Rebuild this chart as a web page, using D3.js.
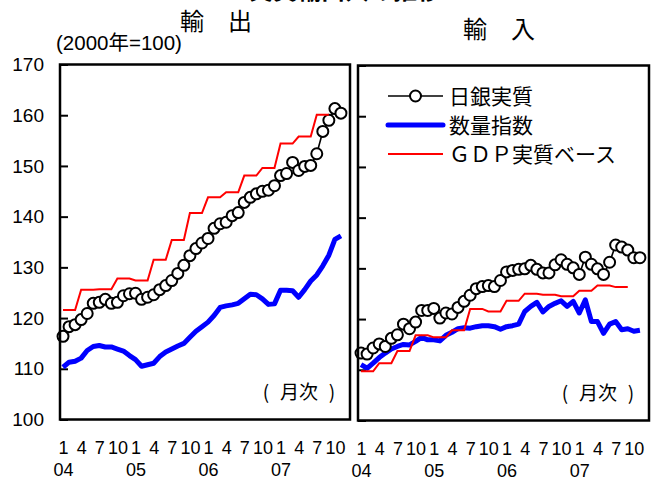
<!DOCTYPE html>
<html><head><meta charset="utf-8">
<script src="https://cdn.jsdelivr.net/npm/d3@7"></script>
<style>
html,body{margin:0;padding:0;background:#fff;}
svg{display:block;font-family:"Liberation Sans",Arial,"Noto Sans CJK JP",sans-serif;}
</style></head>
<body><svg id="c" width="654" height="480"></svg>
<script>
// ---- data ----
const monthTicks = [0,3,6,9,12,15,18,21,24,27,30,33,36,39,42,45];
const monthTickLabels = ["1","4","7","10","1","4","7","10","1","4","7","10","1","4","7","10"];
const yearTicks = [0,12,24,36];
const yearLabels = ["04","05","06","07"];
const yTicks = [100,110,120,130,140,150,160,170];
const seriesNames = ["日銀実質","数量指数","ＧＤＰ実質ベース"];

const exportBoj = [116.4,118.3,118.7,119.7,120.9,122.9,123.1,123.7,122.9,123.1,124.4,124.8,124.9,123.7,124.1,124.6,125.6,126.4,127.4,128.8,130.4,132.3,133.7,134.8,135.7,137.7,138.6,138.9,140.2,140.8,142.8,143.8,144.5,145.0,145.2,146.1,148.1,148.5,150.7,149.1,149.9,150.1,152.4,156.8,159.0,161.3,160.4];
const exportQty = [110.3,111.3,111.5,112.1,113.6,114.4,114.6,114.3,114.3,113.9,113.5,112.6,111.8,110.5,110.8,111.1,112.4,113.3,113.9,114.5,115.0,116.2,117.4,118.3,119.2,120.5,122.1,122.4,122.6,122.9,123.8,124.7,124.6,123.8,122.7,122.8,125.5,125.5,125.4,124.1,125.6,127.3,128.5,130.3,132.4,135.5,136.2];
const exportGdpQ = [121.6,125.6,125.7,127.8,127.4,131.5,135.4,140.7,143.8,144.8,148.1,149.6,154.4,155.8,160.1];

const importBoj = [113.3,113.1,114.3,115.1,114.6,116.2,116.9,119.0,118.1,119.4,121.7,121.7,122.1,120.2,121.2,121.0,122.3,123.5,124.7,126.0,126.4,126.6,126.4,127.6,129.3,129.6,129.8,129.9,130.6,129.8,129.1,129.1,130.7,131.7,130.8,130.1,128.8,132.2,130.8,129.9,128.8,131.2,134.6,134.2,133.6,132.1,132.1];
const importQty = [111.0,110.3,111.3,112.4,113.3,114.1,114.6,115.0,114.9,115.6,116.4,115.9,115.9,115.7,116.8,117.4,118.1,118.3,118.2,118.5,118.7,118.7,118.5,118.0,118.5,118.7,119.0,121.5,122.5,123.3,121.4,122.5,123.1,123.6,122.5,123.5,121.2,123.8,119.5,119.5,117.2,119.0,119.5,117.9,118.1,117.6,117.8];
const importGdpQ = [109.7,111.3,113.7,116.8,116.4,117.8,122.0,121.5,123.6,125.0,124.8,124.5,125.6,126.6,126.3];

// quarterly values repeated for each month of the quarter
const toMonthly = q => q.flatMap(v => [v,v,v]);

const svg = d3.select("#c");
const CJK = '"Noto Sans CJK JP",sans-serif';
const LAT = '"Liberation Sans",Arial,sans-serif';

// title (mostly cut off at top)
svg.append("text").attr("x",249).attr("y",-1).attr("font-family",CJK)
  .attr("font-size",24).attr("font-weight","bold").text("実質輸出入の推移");
svg.append("text").attr("x",180).attr("y",30).attr("font-family",CJK)
  .attr("font-size",24).text("輸　出");
svg.append("text").attr("x",463).attr("y",38).attr("font-family",CJK)
  .attr("font-size",24).text("輸　入");
svg.append("text").attr("x",56).attr("y",50).attr("font-size",20.5).text("(2000年=100)");

function panel(x0, x1, y0, y1, boj, qty, gdpQ, showLabels) {
  const x = d3.scalePoint().domain(d3.range(48)).range([x0,x1]).padding(0.5);
  const y = d3.scaleLinear().domain([100,170]).range([y1,y0]);
  const g = svg.append("g");

  // y axis with inward ticks
  const ya = g.append("g").attr("transform",`translate(${x0},0)`)
    .call(d3.axisLeft(y).tickValues(yTicks).tickSizeInner(-8).tickSizeOuter(0).tickPadding(16)
      .tickFormat(showLabels ? d3.format("d") : () => ""));
  ya.select(".domain").remove();
  ya.selectAll(".tick line").attr("stroke","#000").attr("stroke-width",2);
  ya.selectAll("text").attr("font-size",19).attr("fill","#000").attr("font-family",LAT);

  // x axis: months
  const xa = g.append("g").attr("transform",`translate(0,${y1})`)
    .call(d3.axisBottom(x).tickValues(monthTicks).tickSize(0).tickPadding(22)
      .tickFormat((d,i) => monthTickLabels[i]));
  xa.select(".domain").remove();
  xa.selectAll("text").attr("font-size",18).attr("fill","#000").attr("font-family",LAT);
  const xb = g.append("g").attr("transform",`translate(0,${y1})`)
    .call(d3.axisBottom(x).tickValues(yearTicks).tickSize(0).tickPadding(44)
      .tickFormat((d,i) => yearLabels[i]));
  xb.select(".domain").remove();
  xb.selectAll("text").attr("font-size",18).attr("fill","#000").attr("font-family",LAT);

  const marks = g.append("g");
  const line = d3.line().x((d,i)=>x(i)).y(d=>y(d));
  marks.append("path").datum(boj).attr("d",line).attr("fill","none")
    .attr("stroke","#000").attr("stroke-width",1.6);
  marks.append("path").datum(qty).attr("d",line).attr("fill","none")
    .attr("stroke","#0000ff").attr("stroke-width",5).attr("stroke-linejoin","round");
  marks.selectAll("circle").data(boj).join("circle")
    .attr("cx",(d,i)=>x(i)).attr("cy",d=>y(d)).attr("r",5.5)
    .attr("fill","#fff").attr("stroke","#000").attr("stroke-width",2);
  marks.append("path").datum(toMonthly(gdpQ)).attr("d",line).attr("fill","none")
    .attr("stroke","#ff0000").attr("stroke-width",2);

  // frame
  g.append("rect").attr("x",x0).attr("y",y0).attr("width",x1-x0).attr("height",y1-y0)
    .attr("fill","none").attr("stroke","#000").attr("stroke-width",2.5);

  // (月次)
  const ly = y1 - 21;
  g.append("text").attr("x",x1-84).attr("y",ly).attr("text-anchor","middle")
    .attr("font-family",CJK).attr("font-size",19).text("(");
  g.append("text").attr("x",x1-51).attr("y",ly).attr("text-anchor","middle")
    .attr("font-family",CJK).attr("font-size",19).text("月次");
  g.append("text").attr("x",x1-18).attr("y",ly).attr("text-anchor","middle")
    .attr("font-family",CJK).attr("font-size",19).text(")");
  return {x,y};
}

panel(60, 350, 64.5, 419.5, exportBoj, exportQty, exportGdpQ, true);
panel(358, 649, 65.5, 420.5, importBoj, importQty, importGdpQ, false);

// legend
const lg = svg.append("g");
const lx0 = 388, lx1 = 443, ltx = 449;
const lrows = [96, 125, 154];
lg.append("line").attr("x1",lx0).attr("x2",lx1).attr("y1",lrows[0]).attr("y2",lrows[0])
  .attr("stroke","#000").attr("stroke-width",1.6);
lg.append("circle").attr("cx",(lx0+lx1)/2).attr("cy",lrows[0]).attr("r",5.5)
  .attr("fill","#fff").attr("stroke","#000").attr("stroke-width",2);
lg.append("line").attr("x1",lx0).attr("x2",lx1).attr("y1",lrows[1]).attr("y2",lrows[1])
  .attr("stroke","#0000ff").attr("stroke-width",5).attr("stroke-linecap","round");
lg.append("line").attr("x1",lx0).attr("x2",lx1).attr("y1",lrows[2]).attr("y2",lrows[2])
  .attr("stroke","#ff0000").attr("stroke-width",2);
seriesNames.forEach((s,i)=>{
  lg.append("text").attr("x",ltx).attr("y",lrows[i]).attr("dy","0.36em")
    .attr("font-family",CJK).attr("font-size",21).text(s);
});
</script></body></html>
